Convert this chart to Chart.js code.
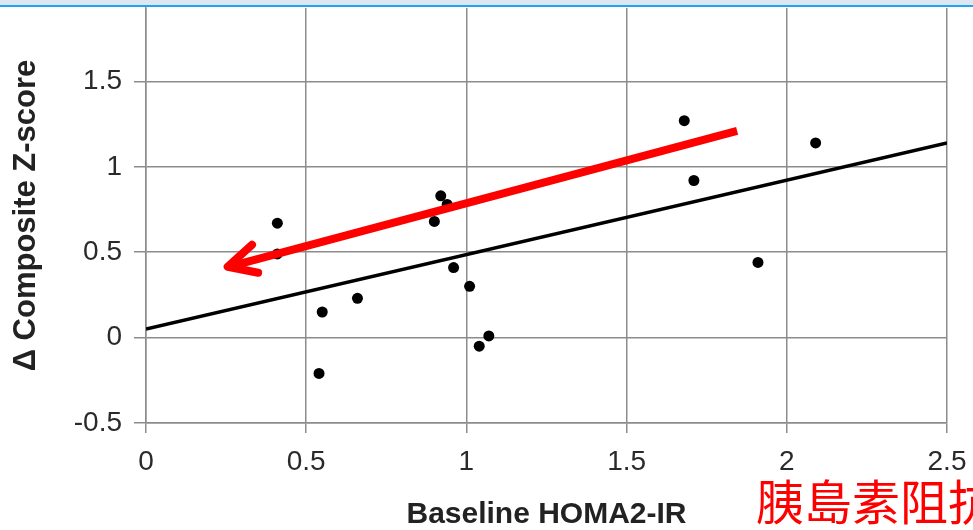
<!DOCTYPE html>
<html>
<head>
<meta charset="utf-8">
<script src="https://cdn.jsdelivr.net/npm/chart.js@4"></script>
<style>
  html, body { margin: 0; padding: 0; background: #fff; }
  #wrap { position: relative; width: 973px; height: 530px; overflow: hidden; }
  #topband { position: absolute; left: 0; top: 0; width: 973px; height: 5px; background: #dde7f2; }
  #topline { position: absolute; left: 0; top: 5px; width: 973px; height: 2px; background: #1ea4f2; }
  #note { position: absolute; left: 756px; top: 469px; font-family: "Noto Sans CJK TC", sans-serif; font-size: 48px; color: #ff0000; white-space: nowrap; line-height: 60px; }
</style>
</head>
<body>
<div id="wrap">
  <canvas id="c" width="973" height="530"></canvas>
  <div id="topband"></div>
  <div id="topline"></div>
  <div id="note">胰島素阻抗</div>
</div>
<script>
// scatter points
const homaX = [0.41, 0.41, 0.54, 0.55, 0.66, 0.90, 0.92, 0.94, 0.96, 1.01, 1.04, 1.07, 1.68, 1.71, 1.91, 2.09];
const zScore = [0.67, 0.49, -0.21, 0.15, 0.23, 0.68, 0.83, 0.78, 0.41, 0.30, -0.05, 0.01, 1.27, 0.92, 0.44, 1.14];

// fitted line end points
const fitX = [0, 2.5];
const fitY = [0.05, 1.14];

// red arrow drawn over the chart
const arrowX = [1.845, 0.26];
const arrowY = [1.21, 0.415];
const headX = [0.331, 0.255, 0.350];
const headY = [0.544, 0.415, 0.380];

const xTicks = [0, 0.5, 1, 1.5, 2, 2.5];
const yTicks = [-0.5, 0, 0.5, 1, 1.5];

const pts = (xs, ys) => xs.map((x, i) => ({x: x, y: ys[i]}));

const gridColor = '#8c8c8c';
const font = 'Liberation Sans, Arial, sans-serif';

new Chart(document.getElementById('c'), {
  type: 'scatter',
  data: {
    datasets: [
      {
        data: pts(headX, headY),
        showLine: true,
        borderColor: '#ff0000',
        borderWidth: 8,
        borderCapStyle: 'round',
        borderJoinStyle: 'round',
        pointRadius: 0
      },
      {
        data: pts(arrowX, arrowY),
        showLine: true,
        borderColor: '#ff0000',
        borderWidth: 8,
        pointRadius: 0
      },
      {
        data: pts(homaX, zScore),
        backgroundColor: '#000',
        borderColor: '#000',
        pointRadius: 5.5,
        pointBorderWidth: 0
      },
      {
        data: pts(fitX, fitY),
        showLine: true,
        borderColor: '#000',
        borderWidth: 3.5,
        pointRadius: 0
      }
    ]
  },
  options: {
    responsive: false,
    animation: false,
    layout: { padding: { top: 8, right: 26, left: 0, bottom: 0 } },
    plugins: { legend: { display: false }, tooltip: { enabled: false } },
    scales: {
      x: {
        type: 'linear',
        min: 0,
        max: 2.5,
        afterBuildTicks: s => { s.ticks = xTicks.map(v => ({value: v})); },
        afterFit: s => { s.height = 107; s.paddingLeft = 0; s.paddingRight = 0; },
        grid: { color: gridColor, lineWidth: 1.5, tickLength: 10 },
        border: { color: gridColor, width: 1.5 },
        ticks: {
          color: '#2a2a2a',
          padding: 12,
          maxRotation: 0,
          font: { family: font, size: 28 },
          callback: v => String(v)
        },
        title: {
          display: true,
          text: 'Baseline HOMA2-IR',
          color: '#222',
          font: { family: font, size: 30, weight: 'bold', lineHeight: 1 },
          padding: { top: 0, bottom: 0 }
        }
      },
      y: {
        type: 'linear',
        min: -0.5,
        max: 1.93,
        afterBuildTicks: s => { s.ticks = yTicks.map(v => ({value: v})); },
        afterFit: s => { s.width = 146; s.paddingTop = 0; s.paddingBottom = 0; },
        grid: { color: gridColor, lineWidth: 1.5, tickLength: 12 },
        border: { color: gridColor, width: 1.5 },
        ticks: {
          color: '#2a2a2a',
          padding: 12,
          font: { family: font, size: 28 },
          callback: v => String(v)
        },
        title: {
          display: true,
          text: 'Δ Composite Z-score',
          color: '#222',
          font: { family: font, size: 31, weight: 'bold', lineHeight: 1 },
          padding: { top: 11, bottom: 0 }
        }
      }
    }
  }
});
</script>
</body>
</html>
